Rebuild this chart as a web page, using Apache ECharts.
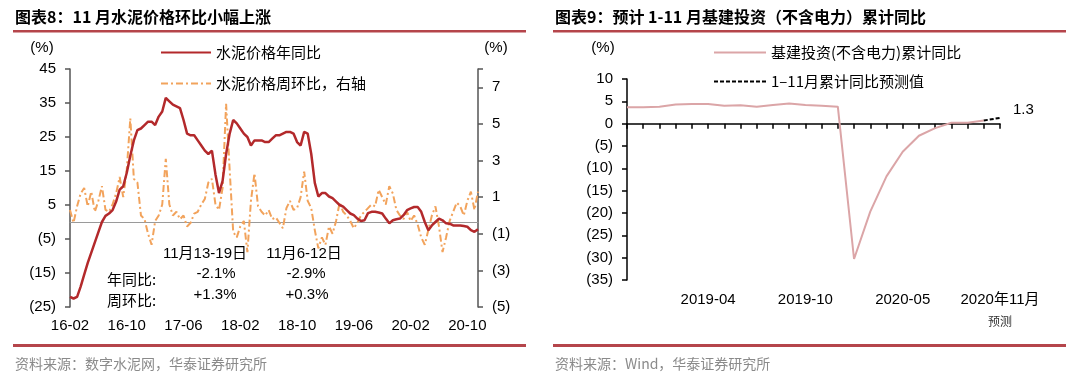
<!DOCTYPE html>
<html>
<head>
<meta charset="utf-8">
<script src="https://cdn.jsdelivr.net/npm/echarts@6/dist/echarts.min.js"></script>
<style>
html,body{margin:0;padding:0;background:#fff;}
#main{width:1080px;height:389px;}
</style>
</head>
<body>
<div id="main"></div>
<script>
// ---------- Chart 8: cement price (semi-monthly points, 2016-02 .. 2020-11) ----------
const startYear = 2016, startMonth = 2, monthCount = 58;
const cementCats = [];
for (let m = 0; m < monthCount; m++) {
  const y = startYear + Math.floor((startMonth - 1 + m) / 12);
  const mo = (startMonth - 1 + m) % 12 + 1;
  const lab = String(y).slice(2) + '-' + (mo < 10 ? '0' + mo : mo);
  cementCats.push(lab + '|a');
  cementCats.push(lab + '|b');
}
const cementYoY = [
  -22,-22.5,-22,-19,-15.5,-12,-9,-6,-3,0,
  1.8,2.5,3.5,6,9.5,10.5,14.5,19.5,24,27,
  27.5,28.5,29.5,29.5,28.5,31,32.5,36.5,35.5,34.5,
  34,33.5,30,26,25.5,25.5,24,22.5,21,20,
  21,14,8.5,12,20,26,30,29,27.5,26,
  25,22.5,24,24,24,23.5,23.5,24.5,25.5,25.5,
  26,26.5,26.5,26,23.5,22.5,26.5,26,20,11.5,
  7.5,8.5,8.5,7.5,7,6,5,4.5,3.5,2.5,
  2,1,0.3,0.5,2.6,3,3,2.8,2.5,1,
  -0.4,0.5,0.8,1,2,3.5,4,4.4,4.4,3,
  0,-2.4,-1,0,1,0.5,-0.4,-0.5,-1,-1,
  -1,-1.2,-1.4,-2.4,-2.9,-2.1
];
const cementWoW = [
  0.3,-0.4,0.5,1.2,1.5,0.5,1.3,0.2,0.8,1.6,
  0.3,0.2,0.6,1.2,2.1,1.0,2.5,5.3,2.0,1.8,
  0.0,-0.2,-1.0,-1.6,-0.3,0.0,0.6,3.1,0.6,0.0,
  0.2,-0.2,0.0,-0.6,-0.4,0.1,0.2,0.6,0.9,1.8,
  2.0,0.6,0.3,1.5,6.1,2.5,-0.9,-1.2,-0.6,-0.3,
  -2.0,0.8,2.3,0.5,0.2,0.0,0.3,-0.2,-0.1,-0.4,
  -0.7,0.4,0.8,0.3,0.4,1.0,2.4,0.8,0.4,-0.8,
  -1.8,-1.2,-1.6,-0.6,-1.0,-0.3,0.7,0.2,0.0,-0.3,
  -0.7,-0.4,0.0,0.2,0.4,0.6,0.5,1.4,1.0,0.6,
  1.6,1.2,0.3,0.0,-0.2,0.2,-0.3,0.0,-0.5,-1.2,
  -1.6,-0.8,0.0,0.5,-0.6,-2.0,-1.2,-0.3,0.2,0.7,
  0.5,0.0,0.8,1.3,0.3,1.3
];
const cementLeftTicks = {min: -25, max: 45, interval: 10};
const cementRightTicks = {min: -5, max: 8, interval: 2};

// ---------- Chart 9: infrastructure investment (ex-power), cumulative YoY ----------
const infraCats = ['2018-10','2018-11','2018-12','2019-02','2019-03','2019-04','2019-05','2019-06',
  '2019-07','2019-08','2019-09','2019-10','2019-11','2019-12','2020-02','2020-03','2020-04',
  '2020-05','2020-06','2020-07','2020-08','2020-09','2020-10','2020-11'];
const infraYoY = [3.7,3.7,3.8,4.3,4.4,4.4,4.0,4.1,3.8,4.2,4.5,4.2,4.0,3.8,
  -30.3,-19.7,-11.8,-6.3,-2.7,-1.0,0.2,0.2,0.7,null];
const infraForecast = [null,null,null,null,null,null,null,null,null,null,null,null,null,null,
  null,null,null,null,null,null,null,null,0.7,1.3];
const infraLabelIdx = [5, 11, 17, 23];
const infraTicks = {min: -35, max: 10, interval: 5};

const FONT = '"Liberation Sans", Arial, "Noto Sans CJK SC", sans-serif';
const CJK = '"Noto Sans CJK SC", "Liberation Sans", sans-serif';
const paren = v => (v < 0 ? '(' + Math.abs(v) + ')' : String(v));
const SEP = '#B5454B';

const chart = echarts.init(document.getElementById('main'), null, {renderer: 'canvas'});

const txt = (x, y, text, opt) => Object.assign({
  type: 'text', x: x, y: y,
  style: Object.assign({text: text, fill: '#000', font: '15px ' + FONT, textVerticalAlign: 'middle'}, opt || {})
});

chart.setOption({
  animation: false,
  backgroundColor: '#fff',
  textStyle: {fontFamily: FONT},
  grid: [
    {left: 70, top: 69, width: 408, height: 238, containLabel: false, outerBoundsMode: 'none'},
    {left: 627, top: 79, width: 373, height: 201, containLabel: false, outerBoundsMode: 'none'}
  ],
  legend: [
    {
      data: ['水泥价格年同比', '水泥价格周环比，右轴'],
      orient: 'vertical', left: 155, top: 40, itemWidth: 50, itemHeight: 14, itemGap: 16,
      itemStyle: {opacity: 0},
      textStyle: {fontSize: 15, color: '#000', fontFamily: CJK}
    },
    {
      data: ['基建投资(不含电力)累计同比', '1–11月累计同比预测值'],
      orient: 'vertical', left: 708, top: 40, itemWidth: 52, itemHeight: 14, itemGap: 14,
      itemStyle: {opacity: 0},
      textStyle: {fontSize: 15, color: '#000', fontFamily: CJK}
    }
  ],
  xAxis: [
    {
      gridIndex: 0, type: 'category', data: cementCats, boundaryGap: false,
      axisLine: {onZero: true, onZeroAxisIndex: 0, lineStyle: {color: '#9a9a9a', width: 1}},
      axisTick: {show: false},
      axisLabel: {interval: 15, margin: 11, fontSize: 15, color: '#000',
        formatter: v => v.split('|')[0]},
      splitLine: {show: false}
    },
    {
      gridIndex: 1, type: 'category', data: infraCats, boundaryGap: false,
      axisLine: {onZero: true, lineStyle: {color: '#000', width: 1.5}},
      axisTick: {show: true, interval: 0, length: 5, lineStyle: {color: '#000', width: 1.5}},
      axisLabel: {
        interval: (i) => infraLabelIdx.indexOf(i) >= 0,
        margin: 9, fontSize: 15, color: '#000', lineHeight: 22,
        formatter: (v, i) => (i === infraCats.length - 1 ? '{a|2020年11月}\n{b|预测}' : v),
        rich: {
          a: {fontSize: 15, lineHeight: 22, color: '#000', fontFamily: FONT},
          b: {fontSize: 12, lineHeight: 20, color: '#333', fontFamily: CJK}
        }
      },
      splitLine: {show: false}
    }
  ],
  yAxis: [
    {
      gridIndex: 0, type: 'value', position: 'left',
      min: cementLeftTicks.min, max: cementLeftTicks.max, interval: cementLeftTicks.interval,
      axisLine: {show: true, lineStyle: {color: '#555', width: 1.5}},
      axisTick: {show: true, length: 5, lineStyle: {color: '#555', width: 1.5}},
      axisLabel: {formatter: paren, fontSize: 15, color: '#000', margin: 14},
      splitLine: {show: false}
    },
    {
      gridIndex: 0, type: 'value', position: 'right',
      min: cementRightTicks.min, max: cementRightTicks.max, interval: cementRightTicks.interval,
      axisLine: {show: true, lineStyle: {color: '#555', width: 1.5}},
      axisTick: {show: true, length: 5, lineStyle: {color: '#555', width: 1.5}},
      axisLabel: {formatter: v => (v === cementRightTicks.max ? '' : paren(v)), fontSize: 15, color: '#000', margin: 14},
      splitLine: {show: false}
    },
    {
      gridIndex: 1, type: 'value',
      min: infraTicks.min, max: infraTicks.max, interval: infraTicks.interval,
      axisLine: {show: true, lineStyle: {color: '#000', width: 1.5}},
      axisTick: {show: true, length: 5, lineStyle: {color: '#000', width: 1.5}},
      axisLabel: {formatter: paren, fontSize: 15, color: '#000', margin: 14},
      splitLine: {show: false}
    }
  ],
  series: [
    {
      name: '水泥价格周环比，右轴', type: 'line', xAxisIndex: 0, yAxisIndex: 1,
      data: cementWoW, symbol: 'none', color: '#F2A35C',
      lineStyle: {color: '#F2A35C', width: 2, type: [7, 3, 2, 3]}, z: 2
    },
    {
      name: '水泥价格年同比', type: 'line', xAxisIndex: 0, yAxisIndex: 0,
      data: cementYoY, symbol: 'none', color: '#B3292B',
      lineStyle: {color: '#B3292B', width: 2.5}, z: 3
    },
    {
      name: '基建投资(不含电力)累计同比', type: 'line', xAxisIndex: 1, yAxisIndex: 2,
      data: infraYoY, symbol: 'none', color: '#DBA5A7',
      lineStyle: {color: '#DBA5A7', width: 2}, z: 2
    },
    {
      name: '1–11月累计同比预测值', type: 'line', xAxisIndex: 1, yAxisIndex: 2,
      data: infraForecast, symbol: 'none', color: '#000',
      lineStyle: {color: '#000', width: 2, type: [4, 2]}, z: 3,
      endLabel: {show: true, formatter: p => String(p.value), fontSize: 15, color: '#000',
        distance: 13, offset: [0, -8], fontFamily: FONT}
    }
  ],
  graphic: [
    txt(15, 17, '图表8：11 月水泥价格环比小幅上涨', {font: 'bold 16px ' + CJK}),
    txt(555, 17, '图表9：预计 1-11 月基建投资（不含电力）累计同比', {font: 'bold 16px ' + CJK}),
    {type: 'rect', shape: {x: 13, y: 30, width: 513, height: 2.5}, style: {fill: SEP}},
    {type: 'rect', shape: {x: 553, y: 30, width: 513, height: 2.5}, style: {fill: SEP}},
    {type: 'rect', shape: {x: 13, y: 344, width: 513, height: 3}, style: {fill: SEP}},
    {type: 'rect', shape: {x: 553, y: 344, width: 513, height: 3}, style: {fill: SEP}},
    txt(42, 48, '(%)', {textAlign: 'center'}),
    txt(496, 48, '(%)', {textAlign: 'center'}),
    txt(603, 48, '(%)', {textAlign: 'center'}),
    txt(205, 254, '11月13-19日', {textAlign: 'center'}),
    txt(216, 274, '-2.1%', {textAlign: 'center'}),
    txt(215, 295, '+1.3%', {textAlign: 'center'}),
    txt(107, 279, '年同比:', {font: '15px ' + CJK}),
    txt(107, 300, '周环比:', {font: '15px ' + CJK}),
    txt(304, 254, '11月6-12日', {textAlign: 'center'}),
    txt(306, 274, '-2.9%', {textAlign: 'center'}),
    txt(307, 295, '+0.3%', {textAlign: 'center'}),
    txt(15, 364, '资料来源：数字水泥网，华泰证券研究所', {fill: '#8a8a8a', font: '14px ' + CJK}),
    txt(555, 364, '资料来源：Wind，华泰证券研究所', {fill: '#8a8a8a', font: '14px ' + CJK})
  ]
});
</script>
</body>
</html>
